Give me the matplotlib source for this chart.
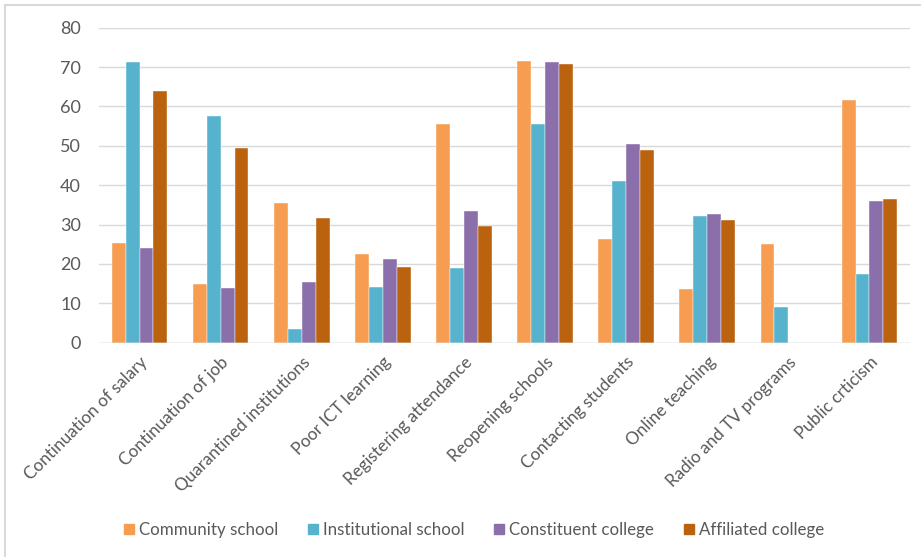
import matplotlib
matplotlib.use("Agg")
import matplotlib.pyplot as plt
import numpy as np
from matplotlib.patches import Rectangle
from matplotlib.lines import Line2D

categories = ["Continuation of salary", "Continuation of job", "Quarantined institutions",
              "Poor ICT learning", "Registering attendance", "Reopening schools",
              "Contacting students", "Online teaching", "Radio and TV programs", "Public crticism"]
community = [25.3, 14.9, 35.4, 22.6, 55.5, 71.6, 26.3, 13.6, 25.1, 61.6]
institutional = [71.4, 57.5, 3.5, 14.2, 19.0, 55.5, 41.1, 32.1, 9.0, 17.4]
constituent = [24.1, 13.9, 15.4, 21.2, 33.4, 71.4, 50.5, 32.6, 0, 36.1]
affiliated = [63.9, 49.5, 31.6, 19.2, 29.6, 70.7, 49.0, 31.1, 0, 36.6]
series_names = ["Community school", "Institutional school", "Constituent college", "Affiliated college"]
yticks = [0, 10, 20, 30, 40, 50, 60, 70, 80]

colors = ["#F79D51", "#57B3CD", "#8B6FAA", "#BA620E"]
plt.rcParams['font.family'] = ['Lato', 'DejaVu Sans']

W, H = 921, 557
fig = plt.figure(figsize=(W / 100, H / 100), dpi=100)
ax = fig.add_axes([99 / W, 1 - 342.7 / H, (910 - 99) / W, (342.7 - 27.7) / H])

x = np.arange(len(categories))
bw = 0.1714
data = [community, institutional, constituent, affiliated]
for i, (vals, c, name) in enumerate(zip(data, colors, series_names)):
    ax.bar(x + (i - 1.5) * bw, vals, width=bw, color=c, label=name,
           edgecolor='white', linewidth=0.3, zorder=3)

ax.set_xlim(-0.5, len(categories) - 0.5)
ax.set_ylim(0, 80)
ax.set_yticks(yticks)
ax.grid(axis='y', color='#D9D9D9', linewidth=1.0, zorder=0)
for s in ax.spines.values():
    s.set_visible(False)
ax.axhline(0, color='#D9D9D9', linewidth=1.0, zorder=4)
ax.tick_params(axis='both', length=0, colors='#595959')
ax.tick_params(axis='y', pad=13, labelsize=13)
ax.set_xticks(x)
ax.set_xticklabels(categories, rotation=45, ha='right', rotation_mode='anchor', color='#595959',
                   fontsize=12.3)
ax.tick_params(axis='x', pad=8)

handles = [Rectangle((0, 0), 1, 1, color=c) for c in colors]
fig.legend(handles, series_names, loc='center', bbox_to_anchor=(474 / W, 1 - 530 / H),
           ncol=4, frameon=False, fontsize=12.2, labelcolor='#595959',
           handlelength=0.6, handleheight=0.6, handletextpad=0.3, columnspacing=1.75)

# outer chart border
fig.add_artist(Line2D([5 / W, 5 / W], [0, 1 - 5 / H], color='#D9D9D9', linewidth=1.5, transform=fig.transFigure))
fig.add_artist(Line2D([5 / W, 1], [1 - 5 / H, 1 - 5 / H], color='#D9D9D9', linewidth=1.5, transform=fig.transFigure))

fig.savefig("out.png", dpi=100)
